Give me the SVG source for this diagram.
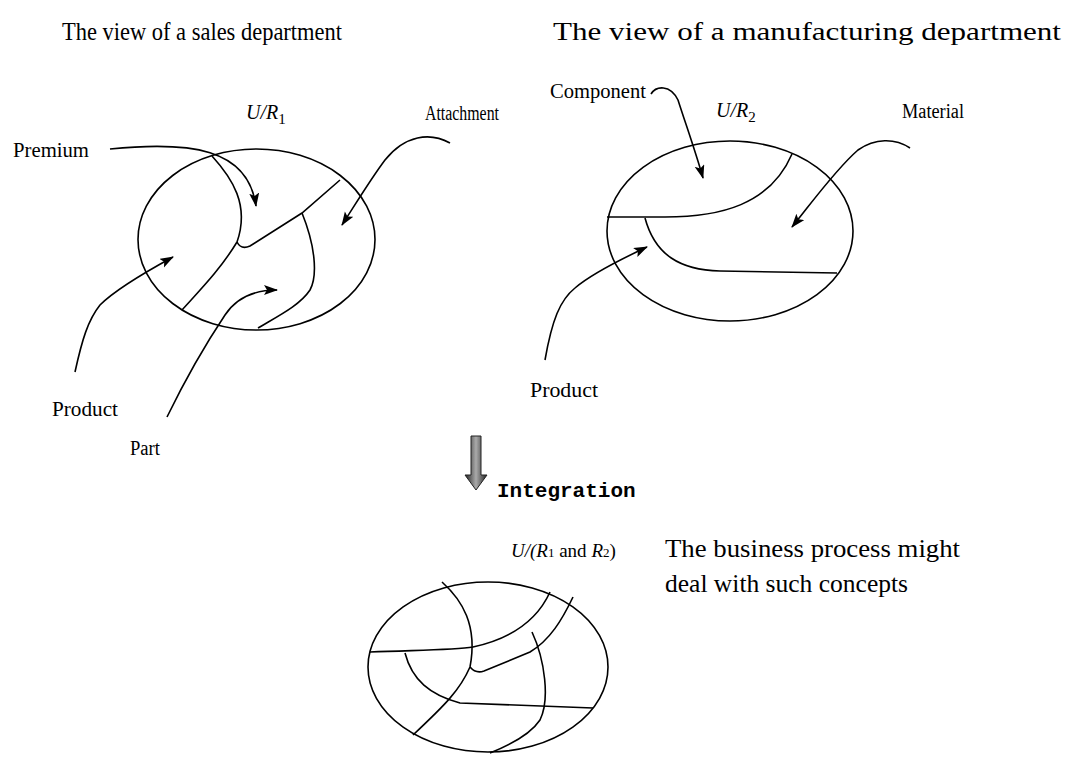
<svg xmlns="http://www.w3.org/2000/svg" width="1070" height="757" viewBox="0 0 1070 757">
<style>
.t{font-family:"Liberation Serif","Times New Roman",serif;fill:#000}
.title{font-size:25px}
.lbl{font-size:20px}
.ital{font-style:italic}
.ln{fill:none;stroke:#000;stroke-width:1.6}
.ar{fill:none;stroke:#000;stroke-width:1.6;marker-end:url(#ah)}
.mono{font-family:"Liberation Mono","Courier New",monospace;font-weight:bold;font-size:21px}
</style>
<defs>
<marker id="ah" markerUnits="userSpaceOnUse" markerWidth="16" markerHeight="12" refX="13" refY="5" orient="auto">
<path d="M0,0 L14,5 L0,10 L3,5 z" fill="#000"/>
</marker>
<linearGradient id="gr" x1="0" x2="1" y1="0" y2="0">
<stop offset="0" stop-color="#222"/>
<stop offset="0.5" stop-color="#aaa"/>
<stop offset="1" stop-color="#222"/>
</linearGradient>
</defs>
<rect width="1070" height="757" fill="#fff"/>

<g id="titles">
<text class="t title" x="62" y="40" textLength="280" lengthAdjust="spacingAndGlyphs">The view of a sales department</text>
<text class="t title" x="553" y="40" textLength="508" lengthAdjust="spacingAndGlyphs">The view of a manufacturing department</text>
</g>

<g id="view-sales">
<ellipse class="ln" cx="256.5" cy="239.5" rx="118.5" ry="90.5"/>
<path class="ln" d="M212,156 C232,178 250,205 237,242"/>
<path class="ln" d="M237,242 Q241,250 250,246 L302,213 L340,180"/>
<path class="ln" d="M237,242 C220,270 200,290 182,310"/>
<path class="ln" d="M302,213 C315,245 318,275 310,290 C300,305 280,315 258,328"/>
<text class="t lbl ital" x="246" y="119">U/R<tspan font-style="normal" font-size="15" dy="5">1</tspan></text>
</g>

<g id="view-manufacturing">
<ellipse class="ln" cx="730" cy="231" rx="123" ry="90"/>
<path class="ln" d="M607,217 L665,217 C720,217 770,205 792,154"/>
<path class="ln" d="M645,218 C655,255 680,270 720,271 L837,273"/>
<text class="t lbl ital" x="716" y="117">U/R<tspan font-style="normal" font-size="15" dy="5">2</tspan></text>
</g>

<g id="label-premium"><text class="t lbl" x="13" y="157" textLength="76" lengthAdjust="spacingAndGlyphs">Premium</text></g>
<g id="label-attachment"><text class="t lbl" x="425" y="120" textLength="74" lengthAdjust="spacingAndGlyphs">Attachment</text></g>
<g id="label-product1"><text class="t lbl" x="52" y="416" textLength="66" lengthAdjust="spacingAndGlyphs">Product</text></g>
<g id="label-part"><text class="t lbl" x="130" y="455" textLength="30" lengthAdjust="spacingAndGlyphs">Part</text></g>
<g id="label-component"><text class="t lbl" x="550" y="98" textLength="96" lengthAdjust="spacingAndGlyphs">Component</text></g>
<g id="label-material"><text class="t lbl" x="902" y="118" textLength="62" lengthAdjust="spacingAndGlyphs">Material</text></g>
<g id="label-product2"><text class="t lbl" x="530" y="397" textLength="68" lengthAdjust="spacingAndGlyphs">Product</text></g>

<g id="connectors">
<path class="ar" d="M110,149 C190,141 248,148 256,206"/>
<path class="ar" d="M450,143 C430,132 405,135 385,160 C370,180 355,205 342,225"/>
<path class="ar" d="M75,372 C82,340 88,320 100,305 C115,290 140,275 173,257"/>
<path class="ar" d="M167,417 C185,380 205,345 225,315 C235,300 250,290 277,290"/>
<path class="ar" d="M651,94 C656,86 670,84 678,100 C686,125 695,150 703,178"/>
<path class="ar" d="M910,148 C895,138 875,138 858,150 C835,170 810,205 792,227"/>
<path class="ar" d="M545,360 C552,320 560,300 575,288 C590,275 615,262 647,247"/>
</g>

<g id="integration-arrow">
<path d="M471,436 L481,436 L481,475 L487,475 L476,490 L465,475 L471,475 z" fill="url(#gr)" stroke="#222" stroke-width="1"/>
<text class="mono" x="497" y="497">Integration</text>
</g>

<g id="view-integrated">
<text class="t" font-size="19" x="511" y="557"><tspan font-style="italic">U/(R</tspan><tspan font-size="13">1</tspan> and <tspan font-style="italic">R</tspan><tspan font-size="13">2</tspan>)</text>
<ellipse class="ln" cx="488" cy="667" rx="120" ry="85"/>
<path class="ln" d="M370,652 C420,650 455,650 473,647 C505,640 535,625 550,592"/>
<path class="ln" d="M442,582 C462,600 478,625 470,667"/>
<path class="ln" d="M470,667 Q476,674 484,671 L530,652 C550,640 562,620 573,597"/>
<path class="ln" d="M470,667 C460,690 445,705 413,735"/>
<path class="ln" d="M405,653 C412,680 430,695 460,703 L593,708"/>
<path class="ln" d="M532,632 C545,660 550,700 540,720 C530,735 510,745 490,753"/>
</g>

<g id="note">
<text class="t" font-size="26" x="665" y="557" textLength="295" lengthAdjust="spacingAndGlyphs">The business process might</text>
<text class="t" font-size="26" x="665" y="592" textLength="243" lengthAdjust="spacingAndGlyphs">deal with such concepts</text>
</g>
</svg>
